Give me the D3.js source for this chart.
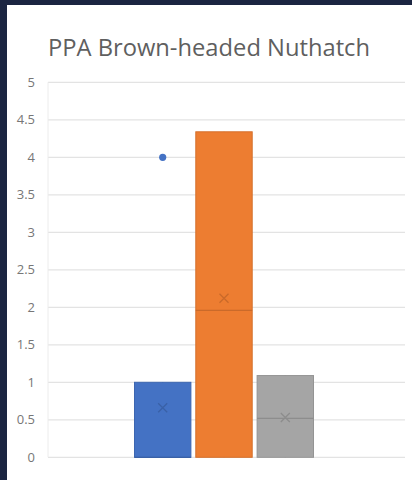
<!DOCTYPE html>
<html>
<head>
<meta charset="utf-8">
<script src="https://cdn.jsdelivr.net/npm/d3@7"></script>
<style>
  html, body { margin: 0; padding: 0; background: #1b2541; }
  svg { display: block; }
</style>
</head>
<body>
<svg id="chart" width="412" height="480"></svg>
<script>
// Box-and-whisker summary for three survey groups
const series = ["Group 1", "Group 2", "Group 3"];
const colors = ["#4472c4", "#ed7d31", "#a5a5a5"];
const q1 = [0, 0, 0];
const medians = [0, 1.96, 0.52];
const q3 = [1, 4.34, 1.09];
const means = [0.66, 2.12, 0.53];
const whiskerLow = [0, 0, 0];
const whiskerHigh = [1, 4.34, 1.09];
const outliers = [[4], [], []];
const yTicks = [0, 0.5, 1, 1.5, 2, 2.5, 3, 3.5, 4, 4.5, 5];
const title = "PPA Brown-headed Nuthatch";

const svg = d3.select("#chart");

// white chart panel inside the dark frame
svg.append("rect")
  .attr("x", 7).attr("y", 5)
  .attr("width", 405).attr("height", 475)
  .attr("fill", "#ffffff");

const plot = { left: 48, right: 405, top: 82.3, bottom: 457.3 };

const y = d3.scaleLinear().domain([0, 5]).range([plot.bottom, plot.top]);

const center = 224;
const x = d3.scaleBand()
  .domain(series)
  .range([center - 89.5, center + 89.5])
  .paddingInner(0.08)
  .paddingOuter(0);

// horizontal gridlines
svg.append("g")
  .selectAll("line")
  .data(yTicks)
  .join("line")
  .attr("x1", plot.left).attr("x2", plot.right)
  .attr("y1", d => y(d)).attr("y2", d => y(d))
  .attr("stroke", "#e3e3e3")
  .attr("stroke-width", 1.3);

svg.append("line")
  .attr("x1", plot.left).attr("x2", plot.left)
  .attr("y1", plot.top).attr("y2", plot.bottom)
  .attr("stroke", "#ececec")
  .attr("stroke-width", 1);

// y axis labels
const yAxis = d3.axisLeft(y).tickValues(yTicks).tickSize(0).tickPadding(13)
  .tickFormat(d => String(d));
const gy = svg.append("g")
  .attr("transform", `translate(${plot.left},0)`)
  .call(yAxis);
gy.select(".domain").remove();
gy.selectAll("text")
  .attr("fill", "#777777")
  .style("font-family", "'Open Sans', sans-serif")
  .style("font-size", "13px");

// boxes
const boxes = svg.append("g")
  .selectAll("g")
  .data(series)
  .join("g");

boxes.append("line")
  .attr("x1", d => x(d) + x.bandwidth() / 2)
  .attr("x2", d => x(d) + x.bandwidth() / 2)
  .attr("y1", (d, i) => y(whiskerLow[i]))
  .attr("y2", (d, i) => y(whiskerHigh[i]))
  .attr("stroke", (d, i) => d3.color(colors[i]).darker(0.5))
  .attr("stroke-width", 1);

boxes.append("rect")
  .attr("x", d => x(d))
  .attr("width", x.bandwidth())
  .attr("y", (d, i) => y(q3[i]))
  .attr("height", (d, i) => y(q1[i]) - y(q3[i]))
  .attr("fill", (d, i) => colors[i])
  .attr("stroke", (d, i) => d3.color(colors[i]).darker(0.3))
  .attr("stroke-width", 1);

// median lines
boxes.append("line")
  .attr("x1", d => x(d))
  .attr("x2", d => x(d) + x.bandwidth())
  .attr("y1", (d, i) => y(medians[i]))
  .attr("y2", (d, i) => y(medians[i]))
  .attr("stroke", (d, i) => d3.color(colors[i]).darker(0.45))
  .attr("stroke-width", 1.2);

// mean markers
const xSize = 4.5;
boxes.append("path")
  .attr("d", (d, i) => {
    const cx = x(d) + x.bandwidth() / 2, cy = y(means[i]);
    return `M${cx - xSize},${cy - xSize}L${cx + xSize},${cy + xSize}M${cx - xSize},${cy + xSize}L${cx + xSize},${cy - xSize}`;
  })
  .attr("stroke", (d, i) => d3.color(colors[i]).darker(0.45))
  .attr("stroke-width", 1.3)
  .attr("fill", "none");

// outlier points
boxes.selectAll("circle")
  .data((d, i) => outliers[i].map(v => ({ s: d, v, i })))
  .join("circle")
  .attr("cx", o => x(o.s) + x.bandwidth() / 2)
  .attr("cy", o => y(o.v))
  .attr("r", 3.6)
  .attr("fill", o => colors[o.i]);

// title, sized to its measured width
const t = svg.append("text")
  .attr("x", 209).attr("y", 56)
  .attr("text-anchor", "middle")
  .attr("fill", "#5f5f5f")
  .style("font-family", "'Open Sans', sans-serif")
  .style("font-size", "100px")
  .text(title);
const w = t.node().getComputedTextLength();
t.style("font-size", (100 * 322 / w).toFixed(2) + "px");
</script>
</body>
</html>
